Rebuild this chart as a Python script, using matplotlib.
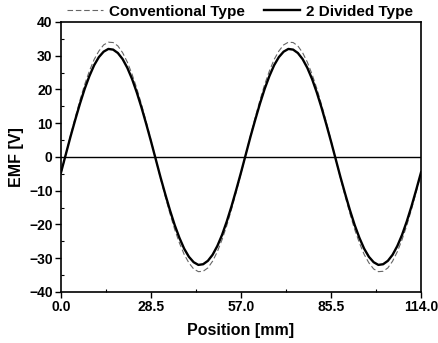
import matplotlib
matplotlib.use("Agg")
import matplotlib.pyplot as plt
import numpy as np
from matplotlib.ticker import MultipleLocator

plt.rcParams['font.family'] = ['Liberation Sans', 'DejaVu Sans']
plt.rcParams['font.weight'] = 'bold'

# position in mm, sampled every 1.5 mm
position = np.arange(0, 114.1, 1.5)

# EMF [V]
conventional = [-4.9, 0.7, 6.3, 11.7, 16.8, 21.5, 25.5, 28.9, 31.4, 33.2, 34.0, 33.9, 32.9, 30.9,
                28.1, 24.5, 20.3, 15.5, 10.3, 4.9, -0.7, -6.3, -11.7, -16.8, -21.5, -25.5,
                -28.9, -31.4, -33.2, -34.0, -33.9, -32.9, -30.9, -28.1, -24.5, -20.3, -15.5,
                -10.3, -4.9,
                0.7, 6.3, 11.7, 16.8, 21.5, 25.5, 28.9, 31.4, 33.2, 34.0, 33.9, 32.9, 30.9,
                28.1, 24.5, 20.3, 15.5, 10.3, 4.9, -0.7, -6.3, -11.7, -16.8, -21.5, -25.5,
                -28.9, -31.4, -33.2, -34.0, -33.9, -32.9, -30.9, -28.1, -24.5, -20.3, -15.5,
                -10.3, -4.9]
divided = [-4.6, 0.7, 6.0, 11.0, 15.8, 20.2, 24.0, 27.2, 29.6, 31.2, 32.0, 31.8, 30.8, 29.0,
           26.4, 23.1, 19.1, 14.6, 9.7, 4.6, -0.7, -6.0, -11.0, -15.8, -20.2, -24.0,
           -27.2, -29.6, -31.2, -32.0, -31.8, -30.8, -29.0, -26.4, -23.1, -19.1, -14.6,
           -9.7, -4.6,
           0.7, 6.0, 11.0, 15.8, 20.2, 24.0, 27.2, 29.6, 31.2, 32.0, 31.8, 30.8, 29.0,
           26.4, 23.1, 19.1, 14.6, 9.7, 4.6, -0.7, -6.0, -11.0, -15.8, -20.2, -24.0,
           -27.2, -29.6, -31.2, -32.0, -31.8, -30.8, -29.0, -26.4, -23.1, -19.1, -14.6,
           -9.7, -4.6]

xticks = [0.0, 28.5, 57.0, 85.5, 114.0]

fig = plt.figure(figsize=(4.39, 3.43), dpi=100)
ax = fig.add_axes([0.139, 0.149, 0.82, 0.787])

ax.plot(position, conventional, color='#666666', lw=0.8, ls=(0, (5, 2.5)), label='Conventional Type')
ax.plot(position, divided, color='black', lw=1.7, label='2 Divided Type')
ax.axhline(0, color='black', lw=1.0)

ax.set_xlim(0, 114)
ax.set_ylim(-40, 40)
ax.set_xticks(xticks)
ax.set_xticklabels(['%.1f' % t for t in xticks])
ax.xaxis.set_minor_locator(MultipleLocator(14.25))
ax.yaxis.set_major_locator(MultipleLocator(10))
ax.yaxis.set_minor_locator(MultipleLocator(5))
ax.tick_params(which='major', direction='out', top=False, right=False, labelsize=10,
               length=4, width=1, pad=2)
ax.tick_params(which='minor', direction='in', top=False, right=False, length=2.5, width=0.8)
for s in ax.spines.values():
    s.set_linewidth(1.2)

ax.set_xlabel('Position [mm]', fontsize=11.5, fontweight='bold', labelpad=6)
ax.set_ylabel('EMF [V]', fontsize=11.5, fontweight='bold', labelpad=4)

ax.legend(loc='lower center', bbox_to_anchor=(0.497, 0.99), ncol=2, frameon=False,
          borderaxespad=0, handlelength=2.4, columnspacing=1.2,
          handletextpad=0.4, prop={'weight': 'bold', 'size': 11})

fig.savefig('out.png', dpi=100)
